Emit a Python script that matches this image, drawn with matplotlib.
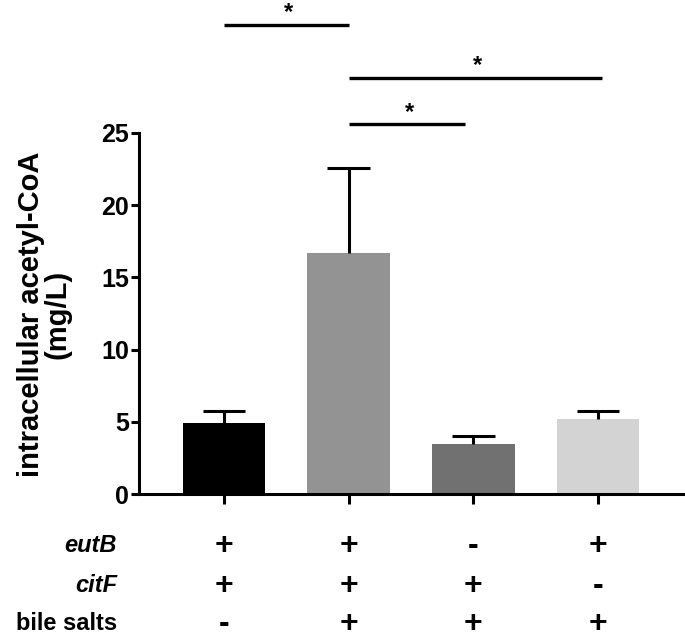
import matplotlib
matplotlib.use("Agg")
import matplotlib.pyplot as plt
from matplotlib.transforms import blended_transform_factory

plt.rcParams['font.family'] = ['Liberation Sans', 'DejaVu Sans']

# data
groups = [0, 1, 2, 3]
means = [4.94, 16.7, 3.47, 5.19]
errs = [0.83, 5.9, 0.58, 0.53]
colors = ['#000000', '#939393', '#717171', '#d3d3d3']
eutB = ['+', '+', '-', '+']
citF = ['+', '+', '+', '-']
bile = ['-', '+', '+', '+']
row_labels = ['eutB', 'citF', 'bile salts']
yticks = [0, 5, 10, 15, 20, 25]
# significance brackets: (x1, x2, y)
sig = [(0, 1, 32.5), (1, 3.03, 28.8), (1, 1.93, 25.6)]

W, H = 685, 641
fig = plt.figure(figsize=(W / 100, H / 100), dpi=100)
ax = fig.add_axes([139 / W, 1 - 494 / H, (683 - 139) / W, (494 - 133) / H])

ax.bar(groups, means, width=0.66, color=colors, zorder=2)
tops = [m + e for m, e in zip(means, errs)]
ax.vlines(groups, means, tops, color='black', lw=2.2, zorder=3)
ax.hlines(tops, [g - 0.17 for g in groups], [g + 0.17 for g in groups],
          color='black', lw=2.2, zorder=3)

ax.set_xlim(-0.68, 3.68)
ax.set_ylim(0, 25)
ax.set_yticks(yticks)
ax.set_xticks(groups)
ax.set_xticklabels([])
for s in ['top', 'right']:
    ax.spines[s].set_visible(False)
for s in ['left', 'bottom']:
    ax.spines[s].set_linewidth(2.2)
ax.tick_params(axis='y', length=6, width=2.2, labelsize=18, pad=1)
ax.tick_params(axis='x', length=7, width=2.2)
for lab in ax.get_yticklabels():
    lab.set_fontweight('bold')

fig.text(44 / W, 1 - 314 / H, 'intracellular acetyl-CoA\n(mg/L)', rotation=90,
         ha='center', va='center', fontsize=21, fontweight='bold',
         linespacing=0.95)

for x1, x2, y in sig:
    ax.plot([x1, x2], [y, y], color='black', lw=2.4, clip_on=False,
            solid_capstyle='butt')
    ax.text((x1 + x2) / 2 + 0.02, y + 0.05, '*', ha='center', va='bottom',
            fontsize=17, fontweight='bold', clip_on=False)

tr = blended_transform_factory(ax.transData, fig.transFigure)
rows_y = [546, 586, 624]
rows = [eutB, citF, bile]
styles = ['italic', 'italic', 'normal']
for lab, yy, vals, st in zip(row_labels, rows_y, rows, styles):
    fig.text(117 / W, 1 - yy / H, lab, ha='right', va='center', fontsize=17,
             fontweight='bold', style=st)
    for g, v in zip(groups, vals):
        ax.text(g, 1 - yy / H, v, transform=tr, ha='center', va='center',
                fontsize=23, fontweight='bold', clip_on=False)

fig.savefig('out.png', dpi=100)
